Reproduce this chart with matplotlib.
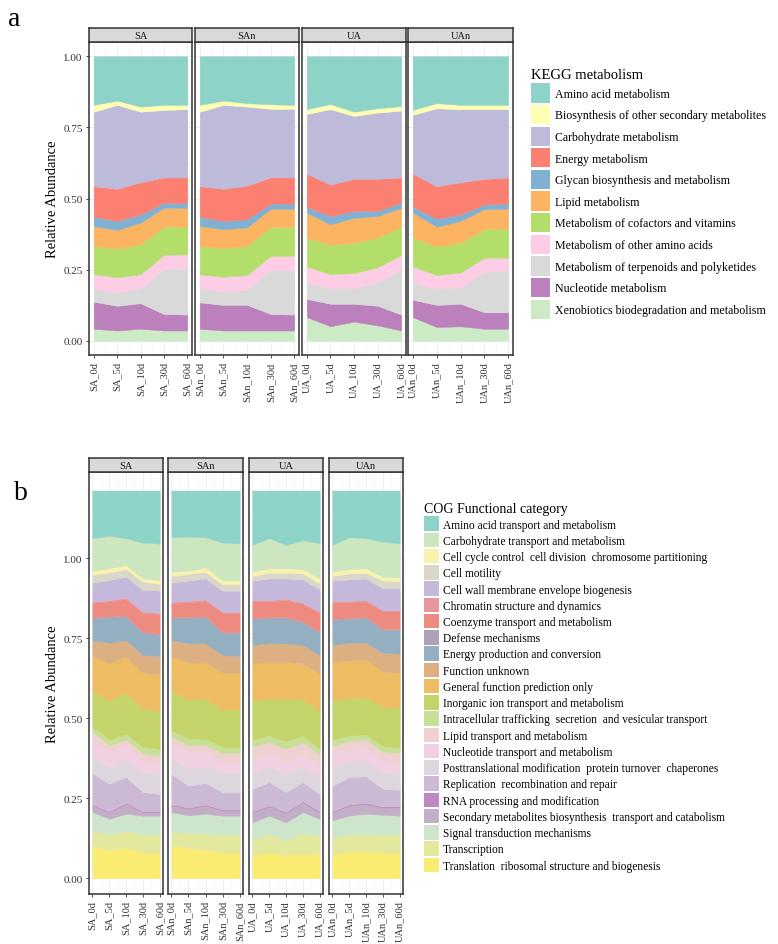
import numpy as np
import matplotlib
matplotlib.use('Agg')
import matplotlib.pyplot as plt
from matplotlib.patches import Patch
from matplotlib.ticker import MultipleLocator

plt.rcParams['font.family'] = ['Liberation Serif', 'DejaVu Serif']

groups = ['SA', 'SAn', 'UA', 'UAn']
days = ['0d', '5d', '10d', '30d', '60d']

# ---- panel a : KEGG metabolism (legend order = top of stack first) ----
kegg_names = ['Amino acid metabolism',
              'Biosynthesis of other secondary metabolites',
              'Carbohydrate metabolism',
              'Energy metabolism',
              'Glycan biosynthesis and metabolism',
              'Lipid metabolism',
              'Metabolism of cofactors and vitamins',
              'Metabolism of other amino acids',
              'Metabolism of terpenoids and polyketides',
              'Nucleotide metabolism',
              'Xenobiotics biodegradation and metabolism']
kegg_colors = ['#8DD3C7', '#FFFFB3', '#BEBADA', '#FB8072', '#80B1D3', '#FDB462',
               '#B3DE69', '#FCCDE5', '#D9D9D9', '#BC80BD', '#CCEBC5']

kegg_SA = [[0.171, 0.156, 0.177, 0.171, 0.171],
           [0.024, 0.015, 0.018, 0.018, 0.015],
           [0.262, 0.295, 0.248, 0.237, 0.240],
           [0.107, 0.113, 0.113, 0.089, 0.089],
           [0.033, 0.032, 0.029, 0.018, 0.018],
           [0.070, 0.065, 0.076, 0.066, 0.066],
           [0.099, 0.101, 0.105, 0.099, 0.097],
           [0.050, 0.053, 0.050, 0.050, 0.052],
           [0.047, 0.047, 0.052, 0.158, 0.160],
           [0.095, 0.087, 0.090, 0.058, 0.056],
           [0.042, 0.036, 0.042, 0.036, 0.036]]
kegg_SAn = [[0.171, 0.156, 0.165, 0.169, 0.171],
            [0.024, 0.015, 0.012, 0.016, 0.014],
            [0.262, 0.295, 0.278, 0.241, 0.241],
            [0.107, 0.113, 0.118, 0.092, 0.092],
            [0.033, 0.029, 0.029, 0.018, 0.018],
            [0.070, 0.067, 0.065, 0.064, 0.064],
            [0.099, 0.100, 0.102, 0.102, 0.102],
            [0.050, 0.053, 0.052, 0.048, 0.052],
            [0.049, 0.046, 0.053, 0.156, 0.154],
            [0.093, 0.090, 0.090, 0.058, 0.056],
            [0.042, 0.036, 0.036, 0.036, 0.036]]
kegg_UA = [[0.186, 0.168, 0.195, 0.183, 0.175],
           [0.017, 0.018, 0.015, 0.015, 0.016],
           [0.210, 0.265, 0.221, 0.233, 0.235],
           [0.116, 0.111, 0.113, 0.113, 0.089],
           [0.021, 0.029, 0.024, 0.018, 0.018],
           [0.087, 0.072, 0.087, 0.075, 0.066],
           [0.102, 0.103, 0.107, 0.105, 0.099],
           [0.056, 0.050, 0.054, 0.053, 0.050],
           [0.058, 0.054, 0.054, 0.082, 0.160],
           [0.064, 0.079, 0.063, 0.069, 0.056],
           [0.083, 0.051, 0.067, 0.054, 0.036]]
kegg_UAn = [[0.189, 0.165, 0.171, 0.171, 0.171],
            [0.017, 0.018, 0.015, 0.015, 0.015],
            [0.207, 0.274, 0.257, 0.245, 0.240],
            [0.116, 0.114, 0.113, 0.090, 0.092],
            [0.021, 0.028, 0.023, 0.017, 0.018],
            [0.087, 0.070, 0.076, 0.070, 0.070],
            [0.102, 0.100, 0.105, 0.100, 0.102],
            [0.056, 0.049, 0.052, 0.050, 0.046],
            [0.061, 0.056, 0.058, 0.142, 0.146],
            [0.061, 0.078, 0.079, 0.058, 0.058],
            [0.083, 0.048, 0.051, 0.042, 0.042]]

# ---- panel b : COG functional category ----
cog_names = ['Amino acid transport and metabolism',
             'Carbohydrate transport and metabolism',
             'Cell cycle control  cell division  chromosome partitioning',
             'Cell motility',
             'Cell wall membrane envelope biogenesis',
             'Chromatin structure and dynamics',
             'Coenzyme transport and metabolism',
             'Defense mechanisms',
             'Energy production and conversion',
             'Function unknown',
             'General function prediction only',
             'Inorganic ion transport and metabolism',
             'Intracellular trafficking  secretion  and vesicular transport',
             'Lipid transport and metabolism',
             'Nucleotide transport and metabolism',
             'Posttranslational modification  protein turnover  chaperones',
             'Replication  recombination and repair',
             'RNA processing and modification',
             'Secondary metabolites biosynthesis  transport and catabolism',
             'Signal transduction mechanisms',
             'Transcription',
             'Translation  ribosomal structure and biogenesis']
cog_colors = ['#8DD3C7', '#CCE6C0', '#F7F2AE', '#DAD7CA', '#C6B8DA', '#E8959C',
              '#EE8B80', '#ADA0B8', '#94AFC0', '#DCB083', '#EEBC62', '#C5D46A',
              '#C8DF98', '#F0D1D2', '#F0D0E2', '#DED6DE', '#CCBAD5', '#BD88BF',
              '#C3AEC8', '#CCE5CB', '#E2E99E', '#FAEB72']

cog_SA = [[0.149, 0.142, 0.149, 0.163, 0.166],
          [0.102, 0.101, 0.084, 0.112, 0.114],
          [0.013, 0.013, 0.013, 0.010, 0.012],
          [0.024, 0.024, 0.023, 0.026, 0.021],
          [0.060, 0.063, 0.066, 0.068, 0.069],
          [0.004, 0.004, 0.004, 0.004, 0.004],
          [0.044, 0.047, 0.052, 0.060, 0.062],
          [0.004, 0.004, 0.004, 0.004, 0.004],
          [0.068, 0.078, 0.073, 0.068, 0.066],
          [0.050, 0.065, 0.050, 0.055, 0.057],
          [0.109, 0.117, 0.115, 0.112, 0.113],
          [0.111, 0.121, 0.128, 0.120, 0.120],
          [0.017, 0.018, 0.018, 0.021, 0.021],
          [0.027, 0.021, 0.018, 0.026, 0.024],
          [0.047, 0.047, 0.047, 0.032, 0.031],
          [0.055, 0.052, 0.052, 0.062, 0.065],
          [0.098, 0.086, 0.081, 0.060, 0.054],
          [0.003, 0.003, 0.003, 0.003, 0.003],
          [0.021, 0.021, 0.031, 0.011, 0.011],
          [0.058, 0.049, 0.053, 0.059, 0.059],
          [0.047, 0.048, 0.054, 0.056, 0.059],
          [0.101, 0.088, 0.094, 0.080, 0.077]]
cog_SAn = [[0.146, 0.144, 0.146, 0.163, 0.165],
           [0.108, 0.107, 0.094, 0.118, 0.116],
           [0.013, 0.010, 0.014, 0.012, 0.012],
           [0.021, 0.021, 0.021, 0.020, 0.020],
           [0.060, 0.063, 0.066, 0.066, 0.066],
           [0.004, 0.004, 0.004, 0.004, 0.004],
           [0.044, 0.047, 0.048, 0.060, 0.060],
           [0.004, 0.004, 0.004, 0.004, 0.004],
           [0.068, 0.078, 0.081, 0.068, 0.071],
           [0.050, 0.061, 0.058, 0.055, 0.052],
           [0.109, 0.115, 0.115, 0.115, 0.115],
           [0.123, 0.122, 0.125, 0.117, 0.117],
           [0.019, 0.021, 0.021, 0.019, 0.019],
           [0.023, 0.021, 0.021, 0.032, 0.032],
           [0.047, 0.049, 0.047, 0.028, 0.028],
           [0.047, 0.056, 0.050, 0.062, 0.062],
           [0.096, 0.069, 0.067, 0.055, 0.055],
           [0.003, 0.003, 0.003, 0.003, 0.003],
           [0.021, 0.021, 0.026, 0.016, 0.016],
           [0.060, 0.056, 0.061, 0.059, 0.059],
           [0.045, 0.046, 0.052, 0.056, 0.056],
           [0.101, 0.094, 0.088, 0.080, 0.080]]
cog_UA = [[0.170, 0.149, 0.170, 0.155, 0.165],
          [0.084, 0.094, 0.073, 0.091, 0.110],
          [0.013, 0.014, 0.014, 0.013, 0.015],
          [0.015, 0.018, 0.018, 0.019, 0.019],
          [0.061, 0.068, 0.063, 0.073, 0.070],
          [0.004, 0.004, 0.004, 0.004, 0.004],
          [0.052, 0.049, 0.054, 0.055, 0.058],
          [0.004, 0.004, 0.004, 0.004, 0.004],
          [0.080, 0.078, 0.078, 0.069, 0.070],
          [0.058, 0.058, 0.058, 0.058, 0.057],
          [0.115, 0.115, 0.115, 0.113, 0.116],
          [0.123, 0.115, 0.133, 0.112, 0.120],
          [0.023, 0.021, 0.024, 0.021, 0.017],
          [0.042, 0.036, 0.041, 0.038, 0.038],
          [0.042, 0.037, 0.037, 0.038, 0.033],
          [0.047, 0.052, 0.057, 0.049, 0.053],
          [0.070, 0.073, 0.063, 0.060, 0.054],
          [0.003, 0.003, 0.003, 0.003, 0.003],
          [0.032, 0.029, 0.029, 0.031, 0.021],
          [0.052, 0.057, 0.055, 0.066, 0.052],
          [0.049, 0.058, 0.046, 0.063, 0.058],
          [0.073, 0.080, 0.073, 0.077, 0.075]]
cog_UAn = [[0.170, 0.146, 0.149, 0.160, 0.165],
           [0.084, 0.100, 0.094, 0.110, 0.107],
           [0.013, 0.013, 0.014, 0.012, 0.010],
           [0.015, 0.019, 0.018, 0.024, 0.024],
           [0.063, 0.067, 0.068, 0.068, 0.068],
           [0.004, 0.004, 0.004, 0.004, 0.004],
           [0.053, 0.050, 0.049, 0.055, 0.055],
           [0.004, 0.004, 0.004, 0.004, 0.004],
           [0.077, 0.073, 0.076, 0.071, 0.073],
           [0.053, 0.055, 0.053, 0.059, 0.060],
           [0.120, 0.120, 0.117, 0.110, 0.109],
           [0.123, 0.115, 0.117, 0.123, 0.123],
           [0.018, 0.018, 0.016, 0.018, 0.019],
           [0.026, 0.029, 0.029, 0.031, 0.032],
           [0.042, 0.036, 0.036, 0.032, 0.031],
           [0.058, 0.047, 0.050, 0.052, 0.052],
           [0.080, 0.086, 0.083, 0.055, 0.052],
           [0.003, 0.003, 0.003, 0.003, 0.003],
           [0.026, 0.032, 0.031, 0.023, 0.026],
           [0.055, 0.057, 0.063, 0.062, 0.059],
           [0.052, 0.055, 0.055, 0.056, 0.059],
           [0.073, 0.083, 0.083, 0.080, 0.077]]

W, H = 778, 945
fig = plt.figure(figsize=(W / 100, H / 100), dpi=100)


def px_axes(x0, y0, x1, y1):
    # axes from pixel box (top-left origin)
    return fig.add_axes([x0 / W, 1 - y1 / H, (x1 - x0) / W, (y1 - y0) / H])


def draw_panel(datas, colors, facets, ytop, ybot, strip_top, ylim, yminor):
    x = np.arange(len(days))
    for k, (g, data) in enumerate(zip(groups, datas)):
        x0, x1 = facets[k]
        ax = px_axes(x0, ytop, x1, ybot)
        layers = np.array(data)[::-1]
        ax.stackplot(x, layers, colors=colors[::-1], edgecolor='face', linewidth=0.3)
        ax.set_xlim(-0.2, 4.2)
        ax.set_ylim(*ylim)
        ax.set_axisbelow(True)
        ax.set_yticks([0, 0.25, 0.5, 0.75, 1.0])
        ax.yaxis.set_minor_locator(MultipleLocator(yminor))
        ax.xaxis.set_minor_locator(MultipleLocator(0.5))
        ax.grid(which='major', color='#EBEBEB', lw=0.6)
        ax.grid(which='minor', color='#F2F2F2', lw=0.4)
        ax.set_xticks(x)
        ax.set_xticklabels([g + '_' + d for d in days], rotation=90, fontsize=7.5)
        ax.tick_params(which='major', length=2.5, width=0.6, color='#333333',
                       labelcolor='#333333', pad=2)
        ax.tick_params(which='minor', length=0)
        if k == 0:
            ax.set_yticklabels(['0.00', '0.25', '0.50', '0.75', '1.00'], fontsize=8)
            ax.set_ylabel('Relative Abundance', fontsize=10.5, labelpad=3)
        else:
            ax.tick_params(axis='y', which='both', left=False, labelleft=False)
        for s in ax.spines.values():
            s.set_color('#333333')
            s.set_linewidth(1.1)
        # facet strip
        st = px_axes(x0, strip_top, x1, ytop)
        st.set_facecolor('#D9D9D9')
        st.set_xticks([])
        st.set_yticks([])
        for s in st.spines.values():
            s.set_color('#333333')
            s.set_linewidth(1.1)
        st.text(0.5, 0.45, g, ha='center', va='center', fontsize=7.5,
                color='#1A1A1A', transform=st.transAxes)


facets_a = [(89, 192), (195, 299), (302, 406), (408, 513)]
draw_panel([kegg_SA, kegg_SAn, kegg_UA, kegg_UAn], kegg_colors, facets_a,
           43, 356, 29, (-0.05, 1.05), 0.125)

facets_b = [(89, 163), (168, 243), (249, 323), (329, 403)]
draw_panel([cog_SA, cog_SAn, cog_UA, cog_UAn], cog_colors, facets_b,
           473, 895, 459, (-0.05, 1.27), 0.125)

# legends
leg_a = fig.legend(handles=[Patch(facecolor=c, edgecolor='none') for c in kegg_colors],
                   labels=kegg_names, loc='upper left',
                   bbox_to_anchor=(525 / W, 1 - 63 / H), bbox_transform=fig.transFigure,
                   frameon=False, fontsize=8.6, title='KEGG metabolism',
                   title_fontsize=10.5, handlelength=1.6, handleheight=2.1,
                   labelspacing=0.2, handletextpad=0.45, borderpad=0,
                   alignment='left')

leg_b = fig.legend(handles=[Patch(facecolor=c, edgecolor='none') for c in cog_colors],
                   labels=cog_names, loc='upper left',
                   bbox_to_anchor=(418 / W, 1 - 497 / H), bbox_transform=fig.transFigure,
                   frameon=False, fontsize=8.3, title='COG Functional category',
                   title_fontsize=10, handlelength=1.36, handleheight=1.56,
                   labelspacing=0.15, handletextpad=0.3, borderpad=0,
                   alignment='left')

fig.text(8 / W, 1 - 26 / H, 'a', fontsize=20, va='baseline')
fig.text(14 / W, 1 - 500 / H, 'b', fontsize=20, va='baseline')

fig.savefig('out.png', dpi=100)
